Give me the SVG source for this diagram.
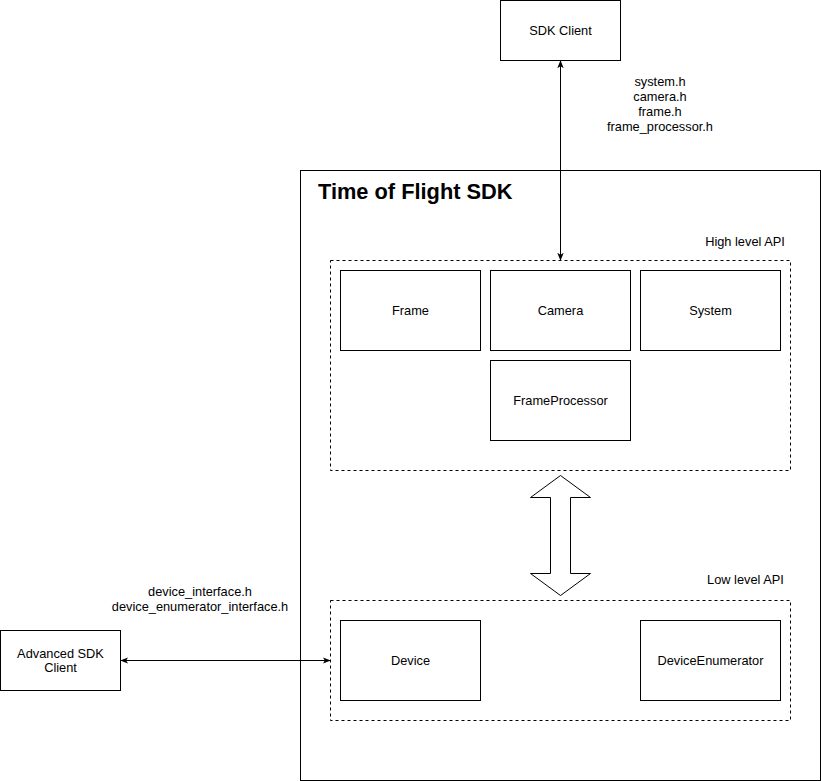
<svg xmlns="http://www.w3.org/2000/svg" width="821" height="781" viewBox="0 0 821 781">
<style>
.box{fill:#fff;stroke:#000;stroke-width:1}
.dash{fill:none;stroke:#000;stroke-width:1;stroke-dasharray:3 3}
.t{font-family:"Liberation Sans",Arial,sans-serif;font-size:12.8px;fill:#000;text-anchor:middle}
.l{font-family:"Liberation Sans",Arial,sans-serif;font-size:12.8px;fill:#000}
.c{stroke:#000;stroke-width:1;fill:none}
</style>
<defs>
<marker id="ah" viewBox="0 0 10 10" refX="9" refY="5" markerWidth="8" markerHeight="8" orient="auto-start-reverse" markerUnits="userSpaceOnUse">
<path d="M0,1 L10,5 L0,9 L2.5,5 Z" fill="#000"/>
</marker>
</defs>
<rect width="821" height="781" fill="#fff"/>
<g id="tof-sdk">
<rect class="box" x="300.5" y="170.5" width="520" height="610"/>
<text x="318" y="199" font-family="Liberation Sans,Arial,sans-serif" font-size="21.8" font-weight="bold">Time of Flight SDK</text>
</g>
<g id="sdk-client">
<rect class="box" x="500.5" y="0.5" width="120" height="60"/>
<text class="t" x="560.5" y="35">SDK Client</text>
</g>
<g id="high-level-api">
<rect class="dash" x="330.5" y="260.5" width="460" height="210"/>
<text class="t" x="745" y="246">High level API</text>
</g>
<g id="frame"><rect class="box" x="340.5" y="270.5" width="140" height="80"/><text class="t" x="410.5" y="315">Frame</text></g>
<g id="camera"><rect class="box" x="490.5" y="270.5" width="140" height="80"/><text class="t" x="560.5" y="315">Camera</text></g>
<g id="system"><rect class="box" x="640.5" y="270.5" width="140" height="80"/><text class="t" x="710.5" y="315">System</text></g>
<g id="frameprocessor"><rect class="box" x="490.5" y="360.5" width="140" height="80"/><text class="t" x="560.5" y="405">FrameProcessor</text></g>
<g id="low-level-api">
<rect class="dash" x="330.5" y="600.5" width="460" height="120"/>
<text class="t" x="745.5" y="584">Low level API</text>
</g>
<g id="device"><rect class="box" x="340.5" y="620.5" width="140" height="80"/><text class="t" x="410.5" y="665">Device</text></g>
<g id="device-enumerator"><rect class="box" x="640.5" y="620.5" width="140" height="80"/><text class="t" x="710.5" y="665">DeviceEnumerator</text></g>
<g id="advanced-sdk-client">
<rect class="box" x="0.5" y="630.5" width="120" height="60"/>
<text class="t" x="60.5" y="658">Advanced SDK</text>
<text class="t" x="60.5" y="672">Client</text>
</g>
<g id="connectors">
<line class="c" x1="560.5" y1="61" x2="560.5" y2="260" marker-start="url(#ah)" marker-end="url(#ah)"/>
<text class="t" x="660" y="86">system.h</text>
<text class="t" x="660" y="101">camera.h</text>
<text class="t" x="660" y="116">frame.h</text>
<text class="t" x="660" y="131">frame_processor.h</text>
<path d="M560.5,475.5 L590.5,497.5 L570.5,497.5 L570.5,573.5 L590.5,573.5 L560.5,595.5 L530.5,573.5 L550.5,573.5 L550.5,497.5 L530.5,497.5 Z" fill="#fff" stroke="#000" stroke-width="1"/>
<line class="c" x1="121" y1="660.5" x2="330" y2="660.5" marker-start="url(#ah)" marker-end="url(#ah)"/>
<text class="t" x="200" y="596">device_interface.h</text>
<text class="t" x="200" y="611">device_enumerator_interface.h</text>
</g>
</svg>
